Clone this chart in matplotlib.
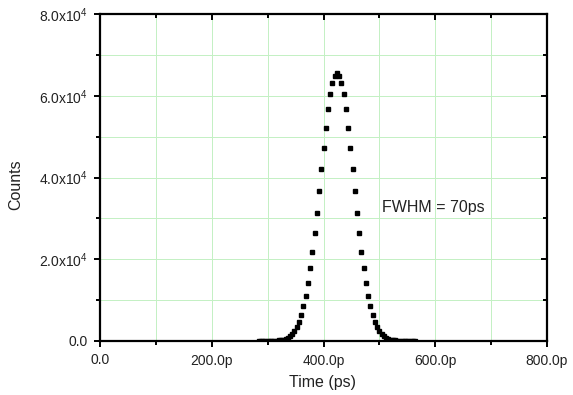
import numpy as np
import matplotlib
matplotlib.use("Agg")
import matplotlib.pyplot as plt
from matplotlib.ticker import MultipleLocator

plt.rcParams['font.family'] = ['Liberation Sans', 'DejaVu Sans']
plt.rcParams['mathtext.fontset'] = 'custom'
plt.rcParams['mathtext.rm'] = 'Liberation Sans'
plt.rcParams['mathtext.default'] = 'regular'

# Data (time bins in ps, counts per bin)
time_ps = [284, 288, 292, 296, 300, 304, 308, 312, 316, 320,
           324, 328, 332, 336, 340, 344, 348, 352, 356, 360,
           364, 368, 372, 376, 380, 384, 388, 392, 396, 400,
           404, 408, 412, 416, 420, 424, 428, 432, 436, 440,
           444, 448, 452, 456, 460, 464, 468, 472, 476, 480,
           484, 488, 492, 496, 500, 504, 508, 512, 516, 520,
           524, 528, 532, 536, 540, 544, 548, 552, 556, 560,
           564]
counts = [2, 4, 6, 10, 16, 25, 40, 62, 95, 145,
          225, 350, 540, 810, 1200, 1740, 2480, 3470, 4760, 6420,
          8510, 11070, 14140, 17740, 21860, 26440, 31420, 36650, 42000, 47250,
          52210, 56650, 60370, 63170, 64910, 65500, 64910, 63170, 60370, 56650,
          52210, 47250, 42000, 36650, 31420, 26440, 21860, 17740, 14140, 11070,
          8510, 6420, 4760, 3470, 2480, 1740, 1200, 810, 540, 350,
          225, 145, 95, 62, 40, 25, 16, 10, 6, 4,
          2]

x_ticks = [0, 200, 400, 600, 800]
x_labels = ["0.0", "200.0p", "400.0p", "600.0p", "800.0p"]
y_ticks = [0, 20000, 40000, 60000, 80000]
y_labels = ["0.0", "2.0x10$^{4}$", "4.0x10$^{4}$", "6.0x10$^{4}$", "8.0x10$^{4}$"]

GRID = '#c4f0c4'

fig = plt.figure(figsize=(5.73, 3.95), dpi=100)
ax = fig.add_axes([100/573, 54/395, 447/573, 327/395])

ax.plot(time_ps, counts, linestyle='none', marker='s', ms=2.2,
        color='black', zorder=2)

ax.set_xlim(0, 800)
ax.set_ylim(0, 80000)
ax.set_xticks(x_ticks)
ax.set_xticklabels(x_labels)
ax.set_yticks(y_ticks)
ax.set_yticklabels(y_labels)
ax.xaxis.set_minor_locator(MultipleLocator(100))
ax.yaxis.set_minor_locator(MultipleLocator(10000))

# 1 px wide grid lines so they snap to whole pixels
ax.grid(True, which='both', color=GRID, linewidth=0.72, snap=True,
        antialiased=False)
ax.set_axisbelow(True)

for s in ax.spines.values():
    s.set_linewidth(1.6)
    s.set_zorder(2.5)

ax.tick_params(which='both', direction='out', width=1.4, labelsize=10,
               labelcolor='#222222')
ax.tick_params(which='major', length=4, pad=5)
ax.tick_params(which='minor', length=3)
ax.tick_params(which='both', top=True, right=True)

# top/right ticks point inward
for t in ax.xaxis.get_major_ticks() + ax.xaxis.get_minor_ticks():
    t.tick2line.set_marker(matplotlib.lines.TICKDOWN)
for t in ax.yaxis.get_major_ticks() + ax.yaxis.get_minor_ticks():
    t.tick2line.set_marker(matplotlib.lines.TICKLEFT)

ax.text(505, 32700, "FWHM = 70ps", fontsize=11.5, color='#222222',
        ha='left', va='center')

fig.text(323/573, 1 - 382/395, "Time (ps)", fontsize=11.5, color='#222222',
         ha='center', va='center')
fig.text(16/573, 1 - 185/395, "Counts", fontsize=11.5, color='#222222',
         ha='center', va='center', rotation=90)

fig.savefig("out.png", dpi=100)
